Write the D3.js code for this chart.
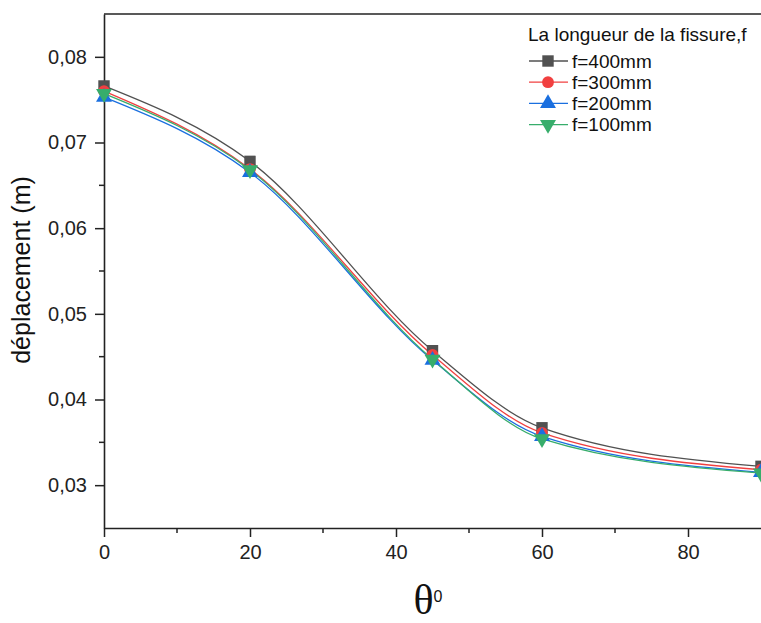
<!DOCTYPE html>
<html>
<head>
<meta charset="utf-8">
<script src="https://cdn.jsdelivr.net/npm/d3@7"></script>
<style>
  body { margin: 0; background: #fff; }
  text { font-family: "Liberation Sans", Arial, sans-serif; }
</style>
</head>
<body>
<div id="container"></div>
<script>
var angles = [0, 20, 45, 60, 90];
var f400 = [0.0766, 0.0678, 0.0457, 0.0367, 0.0322];
var f300 = [0.0760, 0.0669, 0.0452, 0.0361, 0.0318];
var f200 = [0.0753, 0.0665, 0.0446, 0.0357, 0.0315];
var f100 = [0.0757, 0.0668, 0.0447, 0.0354, 0.0314];
var seriesNames = ["f=400mm", "f=300mm", "f=200mm", "f=100mm"];
var xTicks = [0, 20, 40, 60, 80];
var yTicks = [0.03, 0.04, 0.05, 0.06, 0.07, 0.08];

var width = 761,
	height = 623;

var colours = ["#515151", "#F14040", "#1A6FDF", "#37AD6B"];
var symbols = [d3.symbolSquare, d3.symbolCircle, d3.symbolTriangle, d3.symbolTriangle];
var allSeries = [f400, f300, f200, f100];

var xScale = d3.scaleLinear()
	.domain([0, 90])
	.range([104, 761]);

var yScale = d3.scaleLinear()
	.domain([0.025, 0.085])
	.range([528, 14]);

var svg = d3.select("#container")
	.append("svg")
		.attr("width", width)
		.attr("height", height);

var fmt = function(d){ return d3.format(".2f")(d).replace(".", ","); };

// axes
var xAxis = svg.append("g")
	.attr("transform", "translate(0,528)")
	.call(d3.axisBottom(xScale).tickValues(xTicks).tickSize(9).tickPadding(8).tickSizeOuter(0));
xAxis.append("g").selectAll("line")
	.data([10, 30, 50, 70])
	.enter().append("line")
	.attr("x1", function(d){ return xScale(d); })
	.attr("x2", function(d){ return xScale(d); })
	.attr("y1", 0).attr("y2", 5)
	.attr("stroke", "#222").attr("stroke-width", 1.5);

var yAxis = svg.append("g")
	.attr("transform", "translate(104,0)")
	.call(d3.axisLeft(yScale).tickValues(yTicks).tickFormat(fmt).tickSize(9).tickPadding(8).tickSizeOuter(0));
yAxis.append("g").selectAll("line")
	.data([0.035, 0.045, 0.055, 0.065, 0.075])
	.enter().append("line")
	.attr("y1", function(d){ return yScale(d); })
	.attr("y2", function(d){ return yScale(d); })
	.attr("x1", 0).attr("x2", -5)
	.attr("stroke", "#222").attr("stroke-width", 1.5);

svg.selectAll(".domain").attr("stroke", "#222").attr("stroke-width", 1.6);
svg.selectAll(".tick line").attr("stroke", "#222").attr("stroke-width", 1.5);
svg.selectAll(".tick text")
	.style("font-size", "20px")
	.style("font-family", "'Liberation Sans', Arial, sans-serif")
	.attr("fill", "#222");

// top frame
svg.append("line")
	.attr("x1", xScale(0)).attr("x2", width)
	.attr("y1", yScale(0.085)).attr("y2", yScale(0.085))
	.attr("stroke", "#222").attr("stroke-width", 1.6);

// axis titles
svg.append("text")
	.attr("transform", "translate(30,270) rotate(-90)")
	.attr("text-anchor", "middle")
	.style("font-size", "25px")
	.attr("fill", "#111")
	.text("déplacement (m)");

var tt = svg.append("text")
	.attr("x", 428).attr("y", 614)
	.attr("text-anchor", "middle")
	.attr("fill", "#111");
tt.append("tspan")
	.style("font-family", "'Liberation Serif', 'Times New Roman', serif")
	.style("font-size", "42px")
	.text("θ");
tt.append("tspan")
	.attr("dy", -12)
	.style("font-size", "16px")
	.text("0");

// curves
var line = d3.line()
	.x(function(d){ return xScale(d[0]); })
	.y(function(d){ return yScale(d[1]); })
	.curve(d3.curveMonotoneX);

var plot = svg.append("g");
allSeries.forEach(function(vals, s){
	var pts = angles.map(function(a, i){ return [a, vals[i]]; });
	plot.append("path")
		.attr("d", line(pts))
		.attr("fill", "none")
		.attr("stroke", colours[s])
		.attr("stroke-width", 1.3);
});
allSeries.forEach(function(vals, s){
	var size = s == 0 ? 130 : 110;
	plot.selectAll(".m" + s)
		.data(vals)
		.enter().append("path")
		.attr("d", d3.symbol().type(symbols[s]).size(size))
		.attr("transform", function(d, i){
			return "translate(" + xScale(angles[i]) + "," + yScale(d) + ")" + (s == 3 ? " rotate(180)" : "");
		})
		.attr("fill", colours[s]);
});

// legend
var legend = svg.append("g");
legend.append("text")
	.attr("x", 528).attr("y", 41)
	.style("font-size", "19px")
	.attr("fill", "#111")
	.text("La longueur de la fissure,f");
var rows = legend.selectAll(".row")
	.data(seriesNames)
	.enter().append("g")
	.attr("transform", function(d, i){ return "translate(0," + (61 + i * 21.2) + ")"; });
rows.append("line")
	.attr("x1", 529).attr("x2", 568)
	.attr("y1", 0).attr("y2", 0)
	.attr("stroke", function(d, i){ return colours[i]; })
	.attr("stroke-width", 1.3);
rows.append("path")
	.attr("d", function(d, i){ return d3.symbol().type(symbols[i]).size(i == 0 ? 130 : 110)(); })
	.attr("transform", function(d, i){ return "translate(548,0)" + (i == 3 ? " rotate(180)" : ""); })
	.attr("fill", function(d, i){ return colours[i]; });
rows.append("text")
	.attr("x", 572).attr("y", 6.5)
	.style("font-size", "19px")
	.attr("fill", "#111")
	.text(function(d){ return d; });
</script>
</body>
</html>
